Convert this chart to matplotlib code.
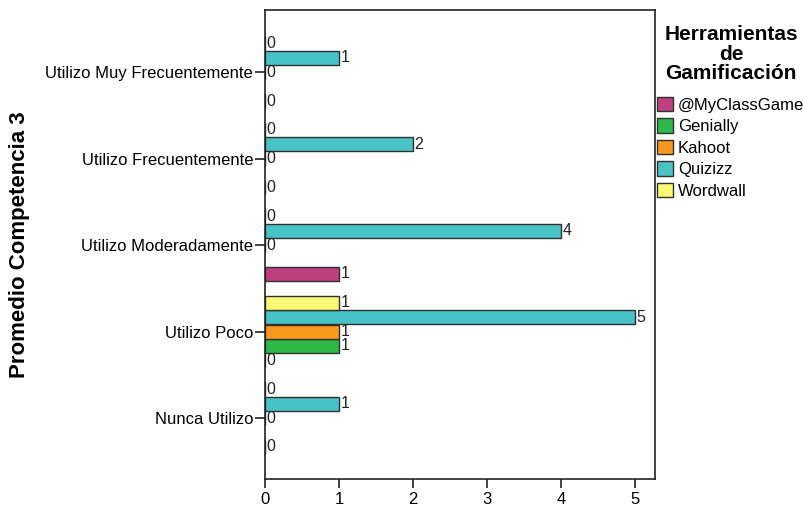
import matplotlib
matplotlib.use("Agg")
import matplotlib.pyplot as plt
from matplotlib.patches import Patch
import numpy as np

plt.rcParams['font.family'] = ['Liberation Sans', 'DejaVu Sans']

# categories, bottom to top
categories = ["Nunca Utilizo", "Utilizo Poco", "Utilizo Moderadamente",
              "Utilizo Frecuentemente", "Utilizo Muy Frecuentemente"]

# counts per tool (None = no bar drawn at all)
myclassgame = [0, 0, 1, 0, 0]
genially = [None, 1, None, None, None]
kahoot = [0, 1, 0, 0, 0]
quizizz = [1, 5, 4, 2, 1]
wordwall = [0, 1, 0, 0, 0]

series = [
    ("@MyClassGame", myclassgame, "#C0407F"),
    ("Genially", genially, "#2EB848"),
    ("Kahoot", kahoot, "#F8981D"),
    ("Quizizz", quizizz, "#48C2C5"),
    ("Wordwall", wordwall, "#FBF873"),
]

slot = 0.1665
edge = "#303030"

fig = plt.figure(figsize=(8.04, 5.12), dpi=100)
ax = fig.add_axes([265/804, 1-479/512, 390/804, 469/512])

y = np.arange(len(categories))
for k, (name, vals, col) in enumerate(series):
    off = (k - 2) * slot
    for i, v in enumerate(vals):
        if v is None:
            continue
        ax.barh(y[i] + off, v, height=slot*0.97, color=col, edgecolor=edge, linewidth=1.0)
        ax.text(v + 0.02, y[i] + off, str(v), ha="left", va="center", fontsize=11.5, color="#222222")

ax.set_xlim(0, 5.27)
ax.set_ylim(-0.705, 4.72)
ax.set_yticks(y)
ax.set_yticklabels(categories, fontsize=12)
ax.set_xticks(range(6))
ax.tick_params(axis="x", labelsize=12, length=6.5, width=1.2, color="#222222", pad=3)
ax.tick_params(axis="y", length=7, width=1.2, color="#222222", pad=1.5)
for s in ax.spines.values():
    s.set_color("#222222")
    s.set_linewidth(1.2)

fig.text(20/804, 1-245/512, "Promedio Competencia 3", rotation=90, ha="center", va="center",
         fontsize=16, fontweight="bold")

# legend: title on its own, entries below
fig.text(731/804, 1-54/512, "Herramientas\nde\nGamificación", ha="center", va="center",
         multialignment="center", fontsize=15, fontweight="bold", linespacing=1.05)

handles = [Patch(facecolor=col, edgecolor=edge, linewidth=1.0) for _, _, col in series]
fig.legend(handles, [n for n, _, _ in series], loc="upper left",
           bbox_to_anchor=(657/804, 1-97/512), frameon=False,
           fontsize=12, handlelength=0.95, handleheight=0.95, handletextpad=0.3,
           labelspacing=0.33, borderpad=0, borderaxespad=0)

fig.savefig("out.png", dpi=100)
